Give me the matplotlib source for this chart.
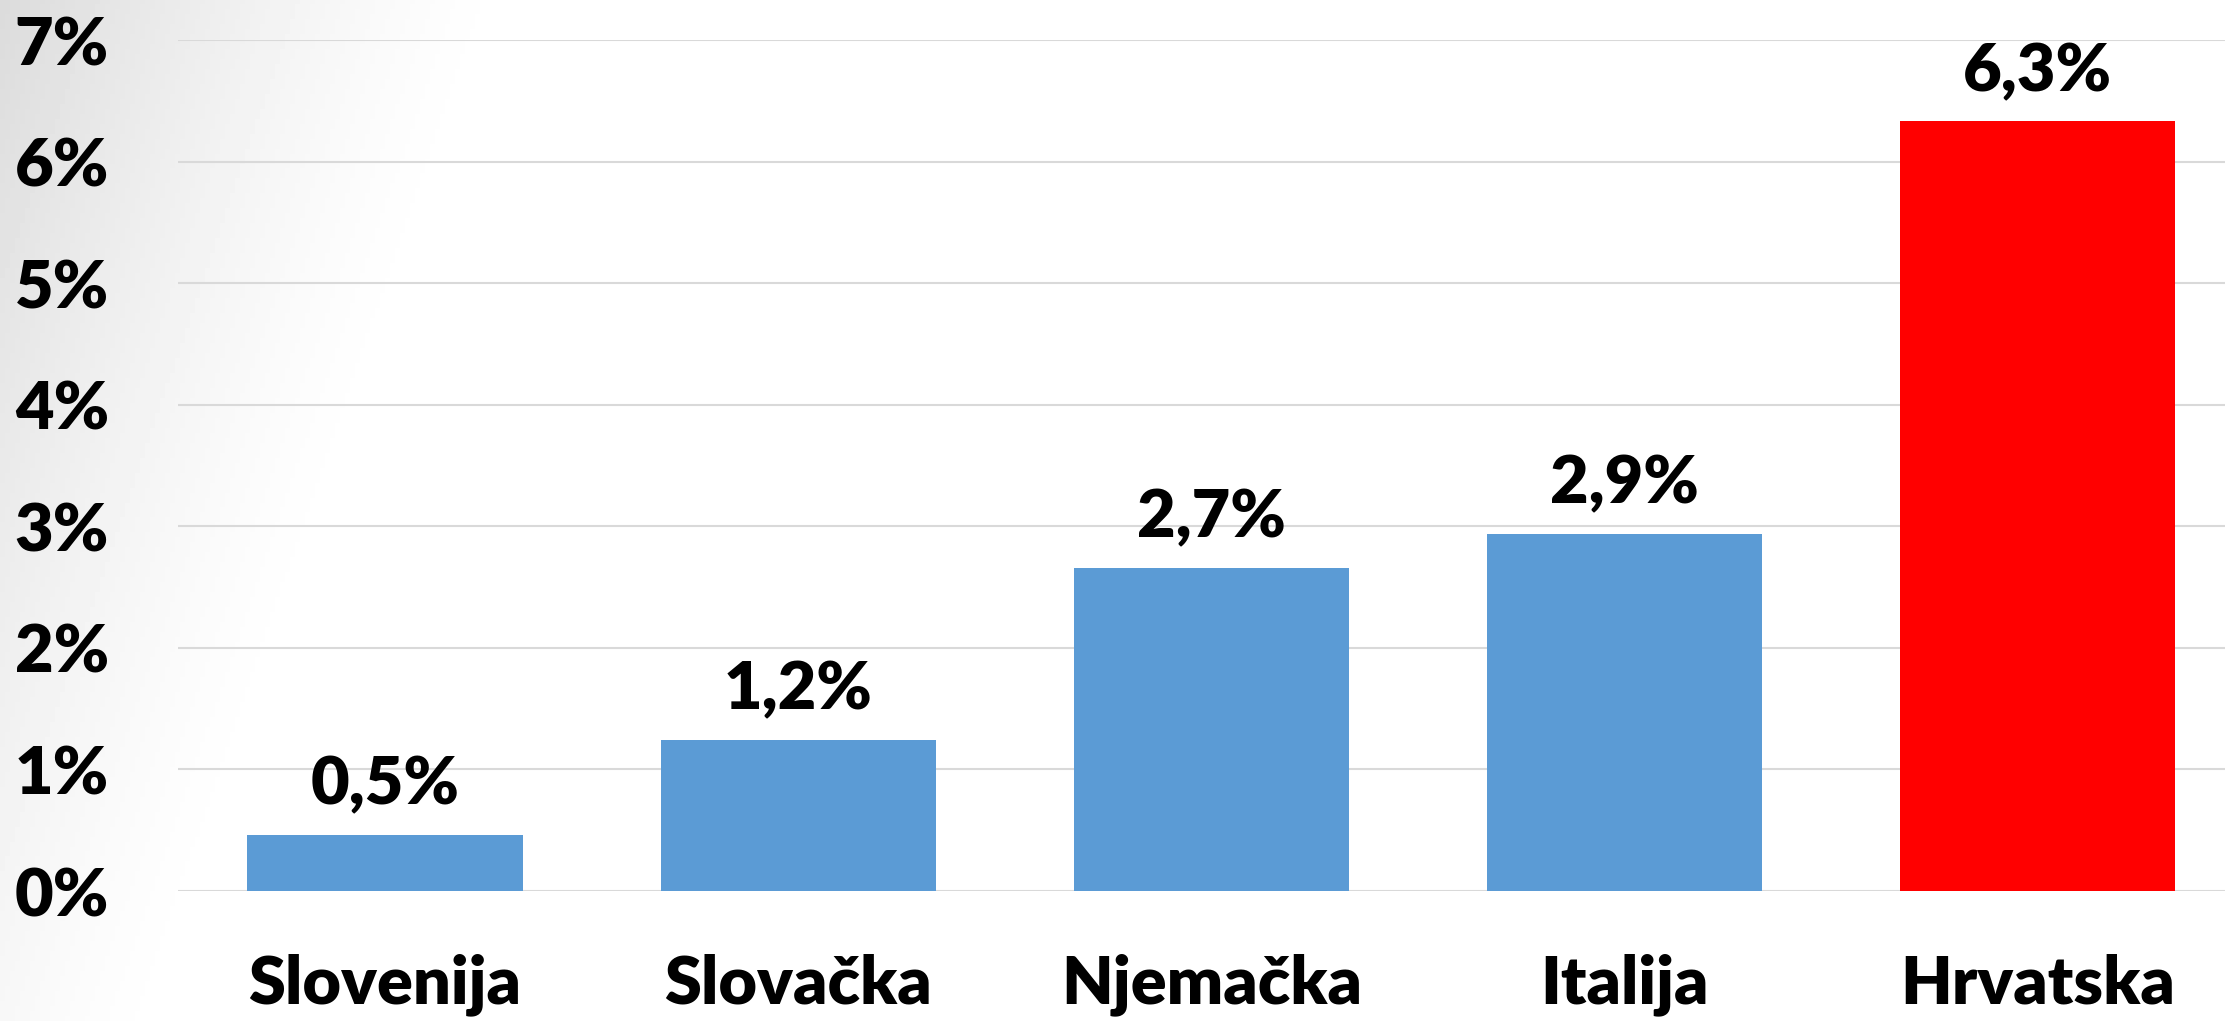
import numpy as np
import matplotlib
matplotlib.use("Agg")
import matplotlib.pyplot as plt

countries = ["Slovenija", "Slovačka", "Njemačka", "Italija", "Hrvatska"]
values = [0.46, 1.24, 2.66, 2.94, 6.33]
colours = ["#5B9BD5", "#5B9BD5", "#5B9BD5", "#5B9BD5", "#FF0000"]
yticks = [0, 1, 2, 3, 4, 5, 6, 7]

plt.rcParams['font.family'] = ['Lato', 'DejaVu Sans']
plt.rcParams['font.weight'] = 'heavy'

fig = plt.figure(figsize=(22.25, 10.21), dpi=100)

# grey corner gradient behind the chart
bg = fig.add_axes([0, 0, 1, 1], zorder=-10)
xx, yy = np.meshgrid(np.linspace(0, 2225, 445), np.linspace(0, 1021, 205))
s = np.clip(1 - (xx + 0.34 * yy) / 520, 0, 1)
shade = 1 - 0.14 * s ** 1.4
bg.imshow(shade, cmap='gray', vmin=0, vmax=1, extent=[0, 2225, 1021, 0], aspect='auto')
bg.axis('off')

ax = fig.add_axes([0.0802, 0.1273, 0.9284, 0.8335])
ax.patch.set_alpha(0)
x = np.arange(len(countries))
bars = ax.bar(x, values, width=0.666, color=colours, zorder=3)

for i in range(len(values)):
    lbl = f"{values[i]:.1f}".replace('.', ',') + "%"
    ax.annotate(lbl, (x[i], values[i]), xytext=(0, 22), textcoords='offset points',
                ha='center', va='baseline', fontsize=48, fontweight='heavy')

ax.set_xlim(-0.5, len(countries) - 0.5)
ax.set_ylim(0, 7)
ax.set_yticks(yticks)
ax.set_yticklabels([f"{t}%" for t in yticks], fontsize=48, fontweight='heavy')
ax.set_xticks(x)
ax.set_xticklabels(countries, fontsize=48, fontweight='heavy')
ax.tick_params(axis='both', length=0)
ax.tick_params(axis='y', pad=50)
ax.tick_params(axis='x', pad=45)
ax.grid(axis='y', color='#d9d9d9', linewidth=1.5, zorder=0)
for sp in ax.spines.values():
    sp.set_visible(False)

fig.savefig("out.png", dpi=100)
